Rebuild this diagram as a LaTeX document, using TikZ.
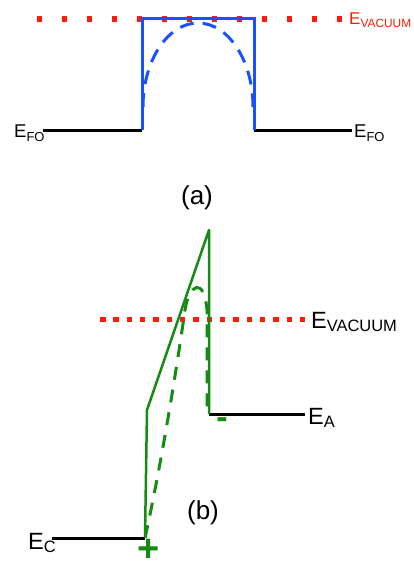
\documentclass[tikz,border=0pt]{standalone}
\usepackage{fontspec}
\setmainfont{Liberation Sans}
\usetikzlibrary{positioning}
\definecolor{vac-red}{RGB}{250,30,10}
\definecolor{bar-blue}{RGB}{25,80,255}
\definecolor{bar-green}{RGB}{20,140,20}

\begin{document}
\begin{tikzpicture}[x=1pt, y=-1pt,
    vacuum/.style={vac-red, line width=5.5pt},
    level/.style={black, line width=3pt},
    barrier/.style={bar-blue, line width=3pt},
    ridge/.style={bar-green, line width=2.5pt},
    elabel/.style={inner sep=0pt, anchor=base west, font=\fontsize{23.5}{27}\selectfont},
    esmall/.style={inner sep=0pt, anchor=base west, font=\fontsize{18.5}{22}\selectfont},
    caption/.style={inner sep=0pt, font=\fontsize{26}{30}\selectfont},
    sign/.style={inner sep=0pt, text=bar-green, font=\bfseries\fontsize{34}{38}\selectfont}]

    \useasboundingbox[fill=white] (0,0) rectangle (414,567);

    % (a) square barrier
    \coordinate (a-bl) at (142,130);
    \coordinate (a-tl) at (142,19);
    \coordinate (a-tr) at (254,19);
    \coordinate (a-br) at (254,130);
    \coordinate (a-ll) at (43,130);
    \coordinate (a-rr) at (352,130);
    \coordinate (a-v1) at (36.5,19);
    \coordinate (a-v2) at (342,19);
    \coordinate (a-dl) at (143,107);

    \draw[vacuum, dash pattern=on 5.5pt off 19.5pt] (a-v1) -- (a-v2);
    \draw[level] (a-ll) -- (a-bl);
    \draw[level] (a-br) -- (a-rr);
    \draw[barrier] (a-bl) -- (a-tl) -- (a-tr) -- (a-br);
    \draw[barrier, dash pattern=on 14pt off 9pt] (a-dl)
        arc[start angle=180, end angle=360, x radius=55, y radius=84];

    \node[esmall, text=vac-red, font=\fontsize{17}{20}\selectfont] (a-vac) at (349,25) {E\textsubscript{VACUUM}};
    \node[esmall] (a-efl) at (14,138) {E\textsubscript{FO}};
    \node[esmall] (a-efr) at (354,138) {E\textsubscript{FO}};
    \node[caption] (a-cap) at (197,198) {(a)};

    % (b) triangular barrier
    \coordinate (b-c) at (145,538);
    \coordinate (b-knee) at (147,410);
    \coordinate (b-peak) at (209,230);
    \coordinate (b-foot) at (209,414);
    \coordinate (b-cl) at (52,538);
    \coordinate (b-ar) at (305,414);
    \coordinate (b-v1) at (100,319);
    \coordinate (b-v2) at (305.5,319);
    \coordinate (b-top) at (185,310);
    \coordinate (b-drop) at (207,310);
    \coordinate (b-end) at (207,407);

    \draw[vacuum, line width=5pt, dash pattern=on 5.5pt off 7.83pt] (b-v1) -- (b-v2);
    \draw[level] (b-cl) -- (b-c);
    \draw[level] (b-foot) -- (b-ar);
    \draw[ridge, line join=round] (b-c) -- (b-knee) -- (b-peak) -- (b-foot);
    \draw[ridge, line width=3pt, dash pattern=on 13pt off 10pt] (b-c)
        .. controls (160,470) and (175,380) .. (b-top)
        .. controls (189,284) and (204,276) .. (b-drop) -- (b-end);

    \node[elabel] (b-vac) at (311,328) {E\textsubscript{VACUUM}};
    \node[elabel] (b-ea) at (308,424) {E\textsubscript{A}};
    \node[elabel] (b-ec) at (28,549) {E\textsubscript{C}};
    \node[sign] (b-minus) at (222,423) {-};
    \node[sign, font=\bfseries\fontsize{38}{42}\selectfont] (b-plus) at (149,550) {+};
    \node[caption] (b-cap) at (203,513) {(b)};
\end{tikzpicture}
\end{document}
